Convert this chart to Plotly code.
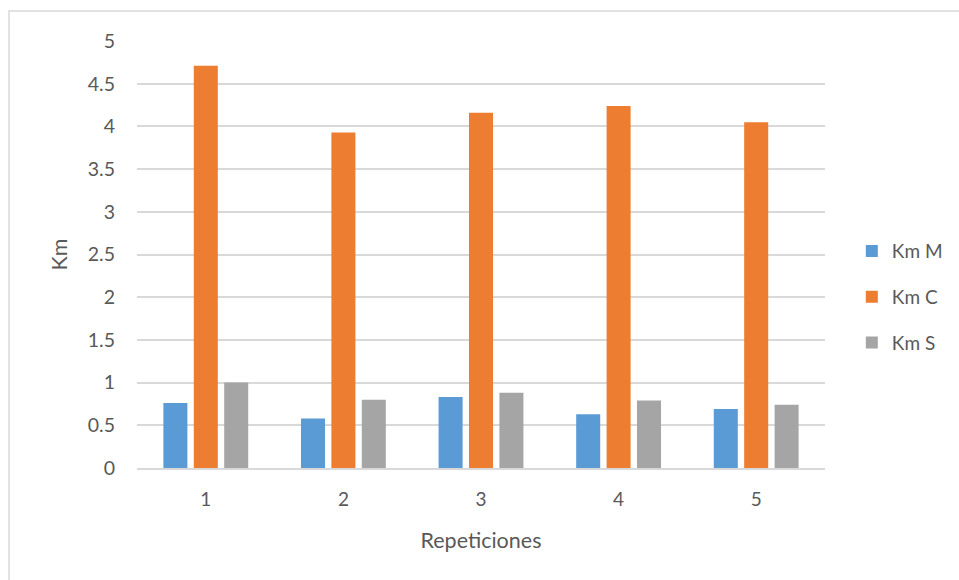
import plotly.graph_objects as go

# Repetition numbers on the x axis
repeticiones = ["1", "2", "3", "4", "5"]

# Distance per repetition (km) for each series
km_m = [0.76, 0.58, 0.83, 0.63, 0.69]
km_c = [4.71, 3.93, 4.16, 4.24, 4.05]
km_s = [1.00, 0.80, 0.88, 0.79, 0.74]

series = [
    ("Km M", km_m, "#5b9bd5"),
    ("Km C", km_c, "#ed7d31"),
    ("Km S", km_s, "#a5a5a5"),
]

FONT = "Lato, Carlito, Calibri, sans-serif"
TXT = "#595959"

fig = go.Figure()
for name, vals, color in series:
    fig.add_trace(go.Bar(
        x=repeticiones, y=vals, name=name,
        marker=dict(color=color, line=dict(width=0)),
        legendgroup=name,
    ))

fig.update_layout(
    width=959, height=580,
    margin=dict(l=137, r=134, t=41, b=112, autoexpand=False),
    paper_bgcolor="white", plot_bgcolor="white",
    barmode="group", bargap=0.337, bargroupgap=0.21,
    font=dict(family=FONT, color=TXT, size=19),
    showlegend=True,
    legend=dict(
        x=1.039, y=0.40, xanchor="left", yanchor="middle",
        font=dict(size=19, color=TXT, family=FONT),
        tracegroupgap=18, traceorder="grouped",
        itemwidth=30,
    ),
    xaxis=dict(
        showgrid=False, showline=True, linecolor="#d9d9d9", linewidth=2,
        ticks="", tickfont=dict(size=19, color=TXT),
        ticklabelstandoff=13,
        title=dict(text="Repeticiones", font=dict(size=21.5, color=TXT), standoff=24),
    ),
    yaxis=dict(
        range=[0, 5], dtick=0.5, showgrid=True, gridcolor="#d9d9d9", gridwidth=1.5,
        zeroline=False, ticks="", tickfont=dict(size=19.5, color=TXT),
        ticklabelstandoff=21,
        title=dict(text="Km", font=dict(size=21.5, color=TXT), standoff=14),
    ),
    shapes=[dict(
        type="rect", xref="paper", yref="paper",
        x0=-0.186, x1=1.3, y0=-0.3, y1=1.07,
        line=dict(color="#d9d9d9", width=1.5), fillcolor="rgba(0,0,0,0)",
        layer="below",
    )],
)

fig.write_html("out.html")
